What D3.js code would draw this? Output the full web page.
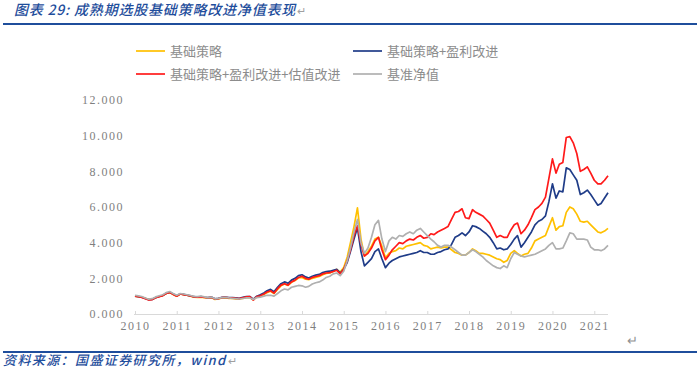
<!DOCTYPE html>
<html>
<head>
<meta charset="utf-8">
<script src="https://cdn.jsdelivr.net/npm/d3@7"></script>
<style>
  body { margin: 0; background: #fff; }
  svg { display: block; }
  .title, .source { font-family: "Noto Sans CJK SC", sans-serif; fill: #1f4e9c; font-style: italic; }
  .legend text { font-family: "Noto Sans CJK SC", sans-serif; fill: #8c8c8c; font-size: 13px; }
  .tick text { font-family: "Liberation Serif", serif; fill: #7f7f7f; font-size: 12px; letter-spacing: 1.5px; }
</style>
</head>
<body>
<div id="vis"></div>
<script>
// monthly, Jan 2010 .. May 2021
var months = d3.timeMonth.range(new Date(2010, 0, 1), new Date(2021, 5, 1));

var seriesNames = ["基础策略", "基础策略+盈利改进", "基础策略+盈利改进+估值改进", "基准净值"];
var seriesColors = ["#ffc000", "#1f3c88", "#ff1a1a", "#b0b0b0"];
var yTicks = [0, 2, 4, 6, 8, 10, 12];
var xYears = d3.range(2010, 2022);

var basic = [
  1.0, 0.97, 0.95, 0.88, 0.82, 0.83, 0.93, 0.98, 1.03, 1.15, 1.2, 1.1,
  1.0, 1.12, 1.08, 1.05, 1.0, 0.95, 0.93, 0.95, 0.92, 0.9, 0.92, 0.82,
  0.85, 0.9, 0.92, 0.88, 0.87, 0.85, 0.84, 0.88, 0.92, 0.93, 0.8, 0.95,
  1.0, 1.1, 1.2, 1.28, 1.15, 1.38, 1.58, 1.68, 1.6, 1.78, 1.88, 2.02,
  2.05, 1.95, 1.92, 2.0, 2.05, 2.1, 2.2, 2.28, 2.3, 2.38, 2.5, 2.35,
  2.6, 3.2, 4.0, 4.9, 5.95, 4.2, 3.25, 3.5, 3.8, 4.2, 4.3, 3.8,
  3.15, 3.4, 3.5, 3.55, 3.7, 3.65, 3.8, 3.85, 3.9, 3.95, 4.0, 3.85,
  3.8, 3.65, 3.7, 3.75, 3.7, 3.75, 3.75, 3.6, 3.45, 3.4, 3.3, 3.3,
  3.45, 3.65, 3.55, 3.4, 3.4, 3.35, 3.3, 3.2, 3.1, 3.05, 2.9, 3.0,
  3.4, 3.55, 3.4, 3.25, 3.35, 3.4, 3.7, 4.1, 4.2, 4.3, 4.4, 4.9,
  5.4, 4.7, 4.9, 4.95, 5.7, 6.0, 5.9, 5.6, 5.2, 5.15, 5.2, 5.0,
  4.8, 4.6, 4.55, 4.65, 4.8
];
var profit = [
  1.0, 0.97, 0.94, 0.87, 0.8, 0.82, 0.92, 0.98, 1.04, 1.16, 1.22, 1.12,
  1.02, 1.13, 1.1, 1.06, 1.02, 0.97, 0.95, 0.97, 0.94, 0.92, 0.95, 0.85,
  0.88, 0.93, 0.95, 0.92, 0.92, 0.9, 0.88, 0.93, 0.97, 0.98, 0.83, 1.0,
  1.08, 1.18, 1.3, 1.38, 1.25, 1.5, 1.7, 1.8, 1.72, 1.9, 2.0, 2.15,
  2.2, 2.08, 2.02, 2.12, 2.18, 2.22, 2.32, 2.38, 2.4, 2.45, 2.5, 2.3,
  2.5, 2.9, 3.5, 4.2, 4.85, 3.5, 2.7, 2.9, 3.1, 3.5, 3.65, 3.1,
  2.6, 2.85, 3.0, 3.1, 3.2, 3.25, 3.3, 3.35, 3.4, 3.45, 3.55, 3.45,
  3.45, 3.35, 3.35, 3.45, 3.5, 3.6, 3.65, 3.9, 4.3, 4.4, 4.55, 4.4,
  4.6, 4.95, 4.9, 4.8, 4.65, 4.5, 4.3, 4.0, 3.65, 3.7, 3.6, 3.65,
  3.9, 4.2, 4.4, 3.75, 4.0, 4.3, 4.6, 5.0, 5.2, 5.3, 5.5, 6.3,
  7.3, 6.5, 6.9, 6.85, 8.2, 8.1, 7.8, 7.5, 6.7, 6.8, 6.95, 6.7,
  6.4, 6.1, 6.2, 6.5, 6.8
];
var valuation = [
  1.0, 0.97, 0.93, 0.86, 0.79, 0.81, 0.91, 0.97, 1.03, 1.15, 1.21, 1.1,
  1.0, 1.12, 1.09, 1.05, 1.01, 0.96, 0.94, 0.96, 0.93, 0.91, 0.93, 0.84,
  0.86, 0.92, 0.94, 0.9, 0.9, 0.88, 0.86, 0.91, 0.96, 0.97, 0.78, 0.98,
  1.02, 1.12, 1.23, 1.3, 1.17, 1.42, 1.62, 1.7, 1.62, 1.8, 1.9, 2.05,
  2.12, 2.0, 1.95, 2.05, 2.1, 2.15, 2.25, 2.3, 2.32, 2.38, 2.45, 2.25,
  2.5, 3.0, 3.6, 4.4, 4.95, 3.9, 3.25, 3.4, 3.7, 4.1, 4.3, 3.6,
  3.05, 3.3, 3.6, 3.8, 4.0, 3.95, 4.1, 4.2, 4.15, 4.3, 4.4, 4.25,
  4.3, 4.5, 4.45, 4.6, 4.7, 4.8, 4.9, 5.3, 5.7, 5.75, 5.9, 5.4,
  5.35, 5.85, 5.7, 5.6, 5.5, 5.3, 5.1, 4.7, 4.3, 4.4, 4.3, 4.3,
  4.7, 5.0, 5.1, 4.5, 4.7, 5.0, 5.4, 5.85, 6.0, 6.2, 6.55, 7.6,
  8.7, 7.9, 8.4, 8.5, 9.9, 9.95, 9.6, 9.0, 8.0, 8.1, 8.25, 7.9,
  7.5, 7.3, 7.3, 7.5, 7.75
];
var benchmark = [
  1.05, 1.02, 0.98, 0.9, 0.83, 0.86, 0.96, 1.02, 1.08, 1.2, 1.26, 1.15,
  1.05, 1.15, 1.12, 1.08, 1.04, 0.99, 0.97, 1.0, 0.96, 0.92, 0.95, 0.85,
  0.88, 0.92, 0.94, 0.9, 0.88, 0.86, 0.84, 0.87, 0.9, 0.9, 0.82, 0.92,
  0.95, 1.0, 1.05, 1.05, 1.0, 1.15, 1.3, 1.4, 1.35, 1.5, 1.55, 1.6,
  1.58, 1.5, 1.55, 1.68, 1.75, 1.8, 1.9, 2.05, 2.12, 2.25, 2.3, 2.15,
  2.4, 3.0, 3.7, 4.6, 5.3, 4.0, 3.4, 3.7, 4.3, 5.0, 5.25, 4.2,
  3.5, 4.1, 4.3, 4.2, 4.4, 4.35, 4.5, 4.6, 4.5, 4.7, 4.8, 4.6,
  4.4, 4.2, 4.05, 3.85, 3.75, 3.85, 3.85, 3.75, 3.6, 3.45, 3.3, 3.3,
  3.45, 3.6, 3.5, 3.35, 3.2, 3.0, 2.85, 2.7, 2.6, 2.55, 2.7, 2.6,
  3.1, 3.45, 3.35, 3.25, 3.2, 3.25, 3.3, 3.35, 3.45, 3.55, 3.65, 3.85,
  4.0, 3.65, 3.65, 3.7, 4.1, 4.55, 4.5, 4.2, 4.2, 4.2, 4.15, 3.75,
  3.6, 3.6, 3.55, 3.65, 3.85
];

var w = 700, h = 368;
var allSeries = [basic, profit, valuation, benchmark];

var svg = d3.select("#vis").append("svg")
    .attr("width", w)
    .attr("height", h);

// header + footer
var title = svg.append("text")
    .attr("class", "title")
    .attr("x", 14).attr("y", 15)
    .attr("font-size", 14)
    .attr("letter-spacing", 0.8)
    .attr("font-weight", 500)
    .text("图表 29:  成熟期选股基础策略改进净值表现");
svg.append("text")
    .attr("x", 14 + title.node().getComputedTextLength() + 1).attr("y", 15)
    .attr("font-size", 11).attr("fill", "#a0a0a0")
    .text("↵");
svg.append("line")
    .attr("x1", 3).attr("x2", 697)
    .attr("y1", 24).attr("y2", 24)
    .attr("stroke", "#1f4e9c").attr("stroke-width", 2);
svg.append("line")
    .attr("x1", 3).attr("x2", 697)
    .attr("y1", 352).attr("y2", 352)
    .attr("stroke", "#1f4e9c").attr("stroke-width", 2);
svg.append("text")
    .attr("x", 627).attr("y", 345)
    .attr("font-size", 13).attr("fill", "#909090")
    .text("↵");
var source = svg.append("text")
    .attr("class", "source")
    .attr("x", 3).attr("y", 365)
    .attr("font-size", 13)
    .attr("letter-spacing", 1.4)
    .attr("font-weight", 500)
    .text("资料来源：国盛证券研究所，wind");
svg.append("text")
    .attr("x", 3 + source.node().getComputedTextLength() + 1).attr("y", 365)
    .attr("font-size", 11).attr("fill", "#a0a0a0")
    .text("↵");

var x = d3.scaleTime()
    .domain([new Date(2010, 0, 1), new Date(2021, 4, 1)])
    .range([135, 608]);
var y = d3.scaleLinear().domain([0, 12]).range([314, 100]);

// x axis
var xAxis = d3.axisBottom(x)
    .tickValues(xYears.map(function(yr) { return new Date(yr, 0, 1); }))
    .tickFormat(d3.timeFormat("%Y"))
    .tickSizeInner(-3).tickSizeOuter(0).tickPadding(10);
var gx = svg.append("g")
    .attr("transform", "translate(0," + y(0) + ")")
    .call(xAxis);
gx.select(".domain").attr("stroke", "#d9d9d9").attr("d", "M134,0.5H608");
gx.selectAll(".tick line").attr("stroke", "#d9d9d9");
gx.selectAll(".tick text").attr("dy", "0.5em");

// y axis labels only
var yAxis = d3.axisLeft(y)
    .tickValues(yTicks)
    .tickFormat(d3.format(".3f"))
    .tickSize(0).tickPadding(0);
var gy = svg.append("g")
    .attr("transform", "translate(124,0)")
    .call(yAxis);
gy.select(".domain").remove();

var line = d3.line()
    .x(function(d, i) { return x(months[i]); })
    .y(function(d) { return y(d); });

allSeries.forEach(function(s, i) {
    svg.append("path")
        .datum(s)
        .attr("fill", "none")
        .attr("stroke", seriesColors[i])
        .attr("stroke-width", 1.7)
        .attr("stroke-linejoin", "round")
        .attr("d", line);
});

// legend
var legPos = [[136, 51], [353, 51], [136, 74], [353, 74]];
var leg = svg.append("g").attr("class", "legend");
seriesNames.forEach(function(name, i) {
    var p = legPos[i];
    leg.append("line")
        .attr("x1", p[0]).attr("x2", p[0] + 29)
        .attr("y1", p[1]).attr("y2", p[1])
        .attr("stroke", seriesColors[i]).attr("stroke-width", 1.7);
    leg.append("text")
        .attr("x", p[0] + 34).attr("y", p[1])
        .attr("dy", "0.35em")
        .text(name);
});
</script>
</body>
</html>
